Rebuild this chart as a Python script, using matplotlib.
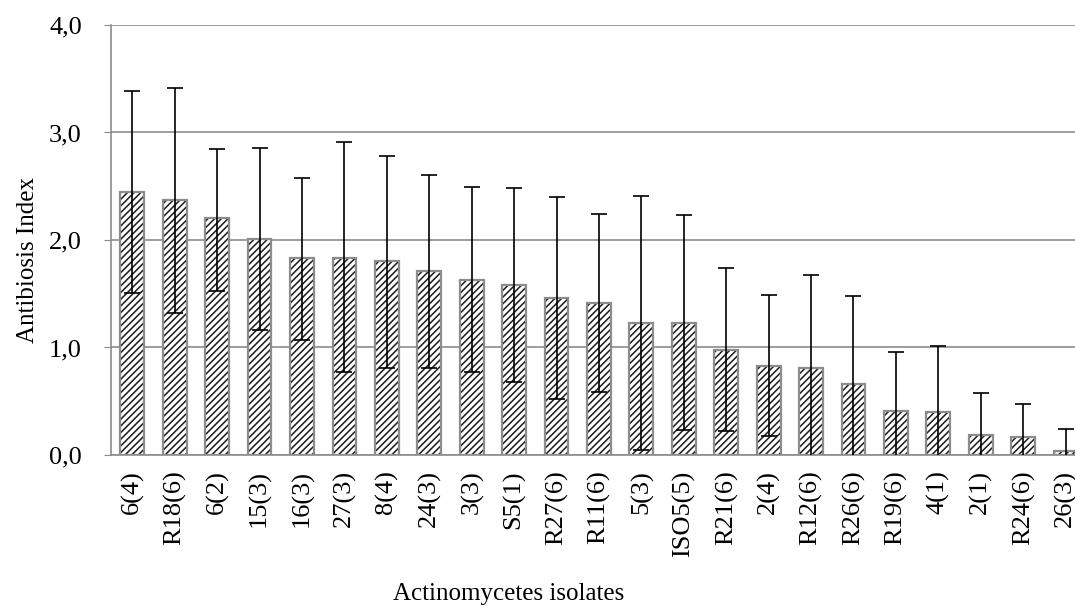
import numpy as np
import matplotlib
matplotlib.use("Agg")
import matplotlib.pyplot as plt

# isolates and antibiosis index (mean, upper / lower end of error bar)
isolates = ['6(4)', 'R18(6)', '6(2)', '15(3)', '16(3)', '27(3)', '8(4)', '24(3)',
            '3(3)', 'S5(1)', 'R27(6)', 'R11(6)', '5(3)', 'ISO5(5)', 'R21(6)', '2(4)',
            'R12(6)', 'R26(6)', 'R19(6)', '4(1)', '2(1)', 'R24(6)', '26(3)']
mean_index = [2.45, 2.37, 2.20, 2.01, 1.83, 1.83, 1.80, 1.71,
              1.63, 1.58, 1.46, 1.41, 1.23, 1.23, 0.98, 0.83,
              0.81, 0.66, 0.41, 0.40, 0.19, 0.17, 0.04]
upper_end = [3.39, 3.41, 2.85, 2.86, 2.58, 2.91, 2.78, 2.60,
             2.49, 2.48, 2.40, 2.24, 2.41, 2.23, 1.74, 1.49,
             1.67, 1.48, 0.96, 1.01, 0.58, 0.47, 0.24]
lower_end = [1.51, 1.32, 1.53, 1.16, 1.07, 0.77, 0.81, 0.81,
             0.77, 0.68, 0.52, 0.59, 0.05, 0.23, 0.22, 0.18,
             -0.05, -0.16, -0.14, -0.21, -0.20, -0.13, -0.16]
y_ticks = [0, 1, 2, 3, 4]
y_ticklabels = ['0,0', '1,0', '2,0', '3,0', '4,0']

plt.rcParams['font.family'] = ['Liberation Serif', 'DejaVu Serif']
plt.rcParams['hatch.linewidth'] = 1.1

fig = plt.figure(figsize=(10.75, 6.09), dpi=100)
ax = fig.add_axes([0.1033, 0.2529, 0.9077, 0.7061])

x = np.arange(len(isolates))
mean = np.array(mean_index)
err = [mean - np.array(lower_end), np.array(upper_end) - mean]

# hatch layer, then grey outline on top
ax.bar(x, mean, width=0.56, color='white', edgecolor='#1a1a1a', linewidth=0,
       hatch='/////', zorder=2)
ax.bar(x, mean, width=0.56, fill=False, edgecolor='#8c8c8c', linewidth=1.6, zorder=3)
ax.errorbar(x, mean, yerr=err, fmt='none', ecolor='black', elinewidth=1.2,
            capsize=6, capthick=1.2, zorder=4)

ax.set_xlim(-0.5, len(isolates) - 0.5)
ax.set_ylim(0, 4)
ax.set_yticks(y_ticks)
ax.set_yticklabels(y_ticklabels, fontsize=19)
ax.set_xticks(x)
ax.set_xticklabels(isolates, rotation=90, fontsize=19)
ax.tick_params(axis='x', length=0, pad=11)
ax.tick_params(axis='y', length=5, color='#8c8c8c', pad=16)

ax.grid(axis='y', color='#8c8c8c', linewidth=1.2, zorder=0)
ax.set_axisbelow(True)
for side in ['top', 'right']:
    ax.spines[side].set_visible(False)
for side in ['left', 'bottom']:
    ax.spines[side].set_color('#8c8c8c')
    ax.spines[side].set_linewidth(1.2)

fig.text(0.026, 0.573, 'Antibiosis Index', rotation=90, fontsize=18,
         ha='center', va='center')
fig.text(0.473, 0.025, 'Actinomycetes isolates', fontsize=18,
         ha='center', va='center')

fig.savefig('out.png', dpi=100)
